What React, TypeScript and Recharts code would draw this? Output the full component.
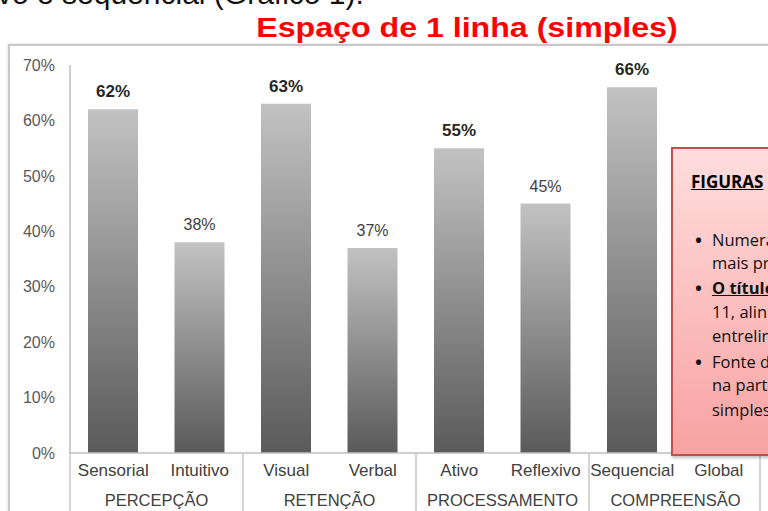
import React from 'react';
import { BarChart, Bar, XAxis, YAxis, LabelList } from 'recharts';

const categories = ['Sensorial', 'Intuitivo', 'Visual', 'Verbal', 'Ativo', 'Reflexivo', 'Sequencial', 'Global'];
const groups = ['PERCEPÇÃO', 'PERCEPÇÃO', 'RETENÇÃO', 'RETENÇÃO', 'PROCESSAMENTO', 'PROCESSAMENTO', 'COMPREENSÃO', 'COMPREENSÃO'];
const values = [62, 38, 63, 37, 55, 45, 66, 34];
const yTicks = [0, 10, 20, 30, 40, 50, 60, 70];

const data = categories.map((name, i) => ({ name, group: groups[i], value: values[i] }));

const W = 768;
const H = 511;
const MARGIN = { top: 65, right: 6, left: 8, bottom: 0 };
const Y_WIDTH = 62;
const PLOT_W = W - MARGIN.left - MARGIN.right - Y_WIDTH;
const BAND = PLOT_W / categories.length;
const FONT = 'Arial, "Liberation Sans", sans-serif';
const BOX_FONT = '"Open Sans", sans-serif';
const SEP = '#c6c6c6';

function CategoryTick(props: any) {
  const { x, y, index, payload } = props;
  const last = index === categories.length - 1;
  return (
    <g>
      {index % 2 === 0 && <line x1={x - BAND / 2} x2={x - BAND / 2} y1={y - 10} y2={y + 60} stroke={SEP} strokeWidth={1.5} />}
      {last && <line x1={x + BAND / 2 - 2} x2={x + BAND / 2 - 2} y1={y - 10} y2={y + 60} stroke={SEP} strokeWidth={1.5} />}
      <text x={x} y={y + 13} textAnchor="middle" fontSize={17} fill="#404040" fontFamily={FONT}>
        {payload.value}
      </text>
    </g>
  );
}

function GroupTick(props: any) {
  const { x, y, index, payload } = props;
  if (index % 2 !== 0) return null;
  return (
    <text x={x + BAND / 2} y={y + 25} textAnchor="middle" fontSize={16.5} fill="#404040" fontFamily={FONT}>
      {payload.value}
    </text>
  );
}

function ValueLabel(props: any) {
  const { x, y, width, value } = props;
  const strong = value >= 50;
  return (
    <text
      x={x + width / 2}
      y={y - 12}
      textAnchor="middle"
      fontSize={strong ? 17 : 16}
      fontWeight={strong ? 700 : 400}
      fill={strong ? '#262626' : '#404040'}
      fontFamily={FONT}
    >
      {`${value}%`}
    </text>
  );
}

const boxLines = [
  { text: 'Numeradas', top: 229, bullet: true },
  { text: 'mais próximo', top: 252 },
  { text: 'O título', top: 277, bullet: true, strong: true },
  { text: '11, alinhado', top: 301 },
  { text: 'entrelinhas', top: 325 },
  { text: 'Fonte da', top: 351, bullet: true },
  { text: 'na parte', top: 374 },
  { text: 'simples', top: 399 },
];

export default function App() {
  return (
    <div style={{ position: 'fixed', left: 0, top: 0, width: W, height: H, overflow: 'hidden', background: '#fff', fontFamily: FONT }}>
      <div style={{ position: 'absolute', left: -3, top: -23, fontSize: 30, color: '#111', whiteSpace: 'nowrap' }}>
        vo e sequencial (Gráfico 1).
      </div>
      <div
        style={{
          position: 'absolute',
          left: 467,
          top: 13,
          fontSize: 27,
          fontWeight: 700,
          color: '#ff0000',
          whiteSpace: 'nowrap',
          transform: 'translateX(-50%) scaleX(1.19)',
        }}
      >
        Espaço de 1 linha (simples)
      </div>
      <div style={{ position: 'absolute', left: 8, top: 44, width: 800, height: 520, border: '2px solid #c8c8c8', boxShadow: '0 0 3px rgba(0,0,0,0.15)' }} />
      <div style={{ position: 'absolute', left: 0, top: 0 }}>
        <BarChart width={W} height={H} data={data} margin={MARGIN} barSize={50}>
          <defs>
            <linearGradient id="barGrad" x1="0" y1="0" x2="0" y2="1">
              <stop offset="0%" stopColor="#c2c2c2" />
              <stop offset="100%" stopColor="#5a5a5a" />
            </linearGradient>
          </defs>
          <YAxis
            width={Y_WIDTH}
            domain={[0, 70]}
            ticks={yTicks}
            tickFormatter={(v) => `${v}%`}
            tickLine={false}
            tickSize={0}
            tickMargin={15}
            axisLine={{ stroke: '#bfbfbf', strokeWidth: 1.5 }}
            tick={{ fontSize: 16, fill: '#595959', fontFamily: FONT }}
          />
          <XAxis
            dataKey="name"
            height={28}
            interval={0}
            tickLine={false}
            tickSize={0}
            tickMargin={10}
            axisLine={{ stroke: '#bfbfbf', strokeWidth: 1.5 }}
            tick={<CategoryTick />}
          />
          <XAxis
            xAxisId="grp"
            dataKey="group"
            height={30}
            interval={0}
            tickLine={false}
            tickSize={0}
            tickMargin={0}
            axisLine={false}
            tick={<GroupTick />}
          />
          <Bar dataKey="value" fill="url(#barGrad)" isAnimationActive={false}>
            <LabelList dataKey="value" content={<ValueLabel />} />
          </Bar>
        </BarChart>
      </div>
      <div
        style={{
          position: 'absolute',
          left: 671,
          top: 147,
          width: 140,
          height: 305,
          border: '2px solid #c0504d',
          background: 'linear-gradient(#ffdddd, #f8a2a2)',
          boxShadow: '1px 2px 3px rgba(0,0,0,0.25)',
        }}
      />
      <div style={{ position: 'absolute', left: 691, top: 170, fontFamily: BOX_FONT, fontSize: 17, fontWeight: 700, color: '#000', textDecoration: 'underline', whiteSpace: 'nowrap' }}>
        FIGURAS
      </div>
      {boxLines.map((l) => (
        <div key={l.top} style={{ position: 'absolute', left: 694, top: l.top, fontFamily: BOX_FONT, fontSize: 16.5, lineHeight: '22px', color: '#111', whiteSpace: 'nowrap' }}>
          <span style={{ display: 'inline-block', width: 18, fontSize: 24, lineHeight: '22px', verticalAlign: 'top', visibility: l.bullet ? 'visible' : 'hidden' }}>•</span>
          <span style={{ fontWeight: l.strong ? 700 : 400, textDecoration: l.strong ? 'underline' : 'none' }}>{l.text}</span>
        </div>
      ))}
    </div>
  );
}
